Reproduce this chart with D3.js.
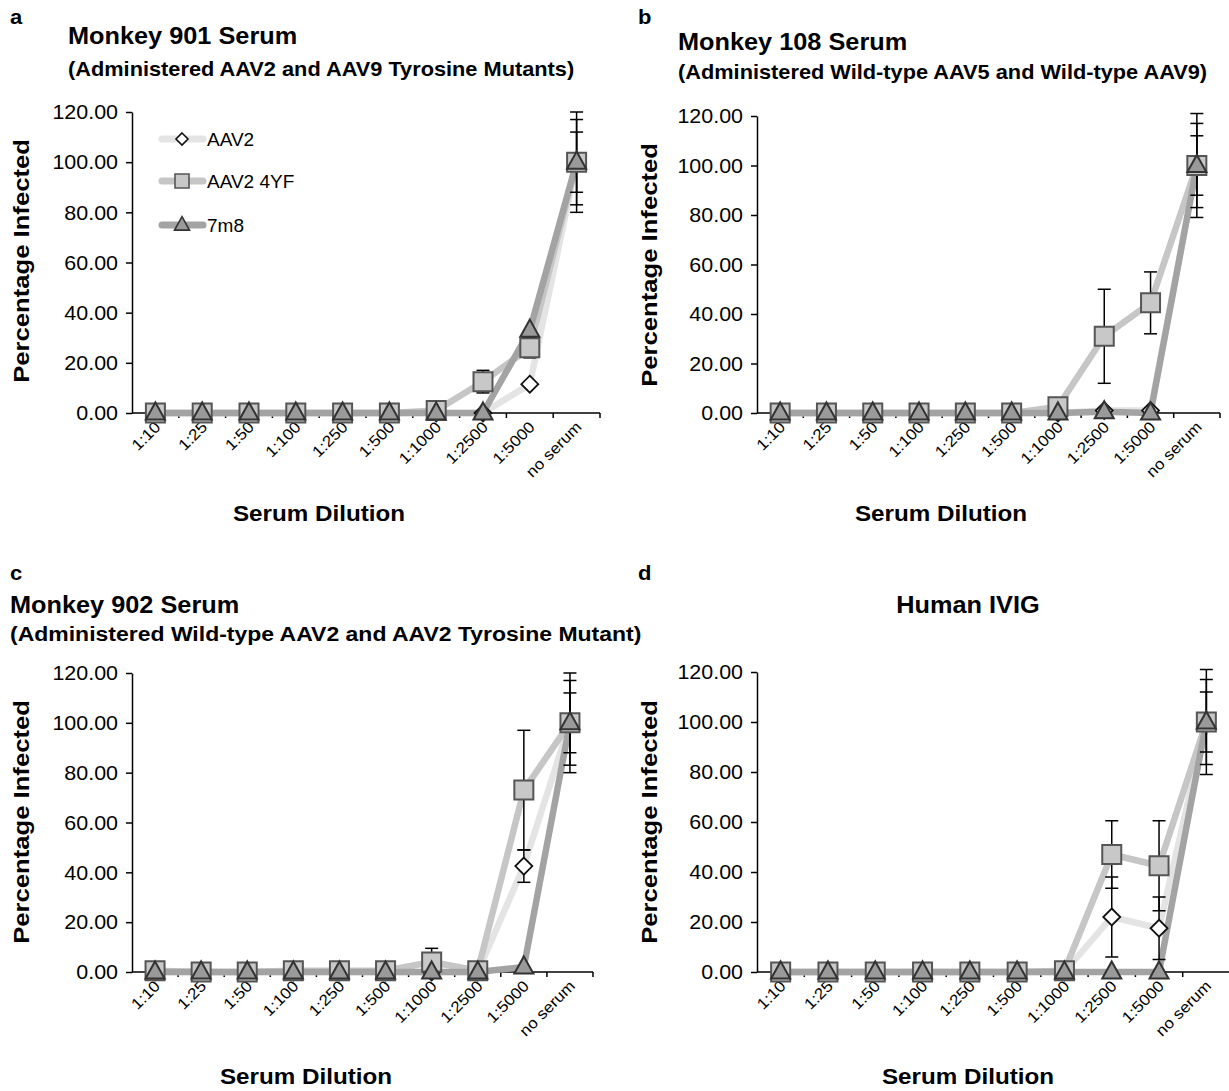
<!DOCTYPE html>
<html><head><meta charset="utf-8">
<script src="https://cdn.jsdelivr.net/npm/d3@7"></script>
<style>body{margin:0;background:#fff} svg{display:block} text{font-family:"Liberation Sans",Arial,Helvetica,sans-serif;fill:#000}</style>
</head><body><svg id="chart" width="1229" height="1091"></svg>
<script>
// ---------- data ----------
const categories = ["1:10","1:25","1:50","1:100","1:250","1:500","1:1000","1:2500","1:5000","no serum"];
const seriesNames = ["AAV2","AAV2 4YF","7m8"];
const yTicks = [0,20,40,60,80,100,120];
const panelLetters = ["a","b","c","d"];
const panelTitles = ["Monkey 901 Serum","Monkey 108 Serum","Monkey 902 Serum","Human IVIG"];
const panelSubtitles = ["(Administered AAV2 and AAV9 Tyrosine Mutants)","(Administered Wild-type AAV5 and Wild-type AAV9)","(Administered Wild-type AAV2 and AAV2 Tyrosine Mutant)",""];
const yAxisTitle = "Percentage Infected";
const xAxisTitle = "Serum Dilution";

// panel a
const aAAV2 = [0,0,0,0,0,0,0,0,11.5,100];
const aAAV2err = [0,0,0,0,0,0,0,0,0,12];
const a4YF = [0,0,0,0,0,0,1,12.5,26,100];
const a4YFerr = [0,0,0,0,0,0,0,4.5,4,17];
const a7m8 = [0,0,0,0,0,0,0,0,33,100];
const a7m8err = [0,0,0,0,0,0,0,0,0,20];
// panel b
const bAAV2 = [0,0,0,0,0,0,0,1,1,100];
const bAAV2err = [0,0,0,0,0,0,0,0,0,12];
const b4YF = [0,0,0,0,0,0,2.5,31,44.5,100];
const b4YFerr = [0,0,0,0,0,0,0,19,12.5,17];
const b7m8 = [0,0,0,0,0,0,0,0.5,0,100];
const b7m8err = [0,0,0,0,0,0,0,0,0,21];
// panel c
const cAAV2 = [0,0,0,0,0,0,0,0,42.5,100];
const cAAV2err = [0,0,0,0,0,0,0,0,6.5,12];
const c4YF = [0.5,0,0,0.5,0.5,0.5,4,0.5,73,100];
const c4YFerr = [0,0,0,0,0,0,5.5,0,24,17];
const c7m8 = [0,0,0,0,0,0,0,0,2,100];
const c7m8err = [0,0,0,0,0,0,0,0,0,20];
// panel d
const dAAV2 = [0,0,0,0,0,0,0,22,17.5,100];
const dAAV2err = [0,0,0,0,0,0,0,16,12.5,12];
const d4YF = [0,0,0,0,0,0,0.5,47,42.5,100];
const d4YFerr = [0,0,0,0,0,0,0,13.5,18,17];
const d7m8 = [0,0,0,0,0,0,0,0,0,100];
const d7m8err = [0,0,0,0,0,0,0,0,0,21];

const panelValues = [[aAAV2,a4YF,a7m8],[bAAV2,b4YF,b7m8],[cAAV2,c4YF,c7m8],[dAAV2,d4YF,d7m8]];
const panelErrors = [[aAAV2err,a4YFerr,a7m8err],[bAAV2err,b4YFerr,b7m8err],[cAAV2err,c4YFerr,c7m8err],[dAAV2err,d4YFerr,d7m8err]];

// ---------- styles / layout ----------
const lineColors = ["#e4e4e4","#c6c6c6","#a3a3a3"];
const markerFill = ["#ffffff","#c8c8c8","#9a9a9a"];
const markerStroke = ["#111","#555","#333"];
const layouts = [
  {x0:132,x1:600,yB:413,yT:112, letter:[10,24], title:[68,44,"start"], sub:[68,76,19.8], yTitle:[29,261], xTitle:[319,521], legend:true},
  {x0:757,x1:1220,yB:413,yT:116, letter:[638,24], title:[678,50,"start"], sub:[678,79,19.8], yTitle:[657,265], xTitle:[941,521]},
  {x0:132,x1:593,yB:972,yT:673, letter:[10,580], title:[10,613,"start"], sub:[10,641,20.9], yTitle:[29,822], xTitle:[306,1084]},
  {x0:757,x1:1230,yB:972,yT:672, letter:[638,580], title:[968,613,"middle"], sub:[968,641,19.8], yTitle:[657,822], xTitle:[968,1084]}
];

const svg = d3.select("#chart");

function markerPath(type, s){
  const h = s/2;
  if(type===0) return `M0,${-h}L${h},0L0,${h}L${-h},0Z`;
  if(type===1) return `M${-h},${-h}H${h}V${h}H${-h}Z`;
  const th = s*0.9;
  return `M0,${-th*0.62}L${h},${th*0.38}L${-h},${th*0.38}Z`;
}

panelValues.forEach((vals, p) => {
  const L = layouts[p];
  const g = svg.append("g");
  const x = d3.scaleBand().domain(categories).range([L.x0, L.x1]).padding(0);
  const y = d3.scaleLinear().domain([0,120]).range([L.yB, L.yT]);
  const cx = c => x(c) + x.bandwidth()/2;

  // letters and titles
  g.append("text").attr("x",L.letter[0]).attr("y",L.letter[1]).attr("font-size",20).attr("font-weight","bold").attr("class","st").text(panelLetters[p]);
  g.append("text").attr("x",L.title[0]).attr("y",L.title[1]).attr("text-anchor",L.title[2]).attr("font-size",23).attr("font-weight","bold").attr("class","st").text(panelTitles[p]);
  if(panelSubtitles[p]) g.append("text").attr("x",L.sub[0]).attr("y",L.sub[1]).attr("font-size",L.sub[2]).attr("font-weight","bold").attr("class","st").text(panelSubtitles[p]);

  // y axis
  const ya = g.append("g").attr("transform",`translate(${L.x0},0)`)
    .call(d3.axisLeft(y).tickValues(yTicks).tickFormat(d3.format(".2f")).tickSize(6).tickSizeOuter(0).tickPadding(8));
  ya.select(".domain").attr("stroke","#000").attr("stroke-width",1.5);
  ya.selectAll(".tick line").attr("stroke","#000").attr("stroke-width",1.5);
  ya.selectAll(".tick text").attr("font-size",19.5).attr("font-family",null).attr("class","st").attr("dy","0.35em");

  // x axis line + boundary ticks
  g.append("line").attr("x1",L.x0).attr("x2",L.x1).attr("y1",y(0)).attr("y2",y(0)).attr("stroke","#000").attr("stroke-width",1.5);
  g.selectAll(".xt").data(categories.slice(1).concat(["__end"])).enter().append("line")
    .attr("x1",c => c==="__end" ? L.x1 : x(c)).attr("x2",c => c==="__end" ? L.x1 : x(c))
    .attr("y1",y(0)).attr("y2",y(0)+5).attr("stroke","#000").attr("stroke-width",1.5);
  g.selectAll(".xl").data(categories).enter().append("text")
    .attr("transform",c => `translate(${cx(c)+6},${y(0)+15}) rotate(-45)`)
    .attr("text-anchor","end").attr("font-size",15.5).attr("class","st").text(c => c);

  // axis titles
  g.append("text").attr("transform",`translate(${L.yTitle[0]},${L.yTitle[1]}) rotate(-90)`).attr("text-anchor","middle")
    .attr("font-size",22.5).attr("font-weight","bold").attr("class","sy").text(yAxisTitle);
  g.append("text").attr("x",L.xTitle[0]).attr("y",L.xTitle[1]).attr("text-anchor","middle")
    .attr("font-size",22).attr("font-weight","bold").attr("class","st").text(xAxisTitle);

  // lines
  const line = d3.line().x((d,i) => cx(categories[i])).y(d => y(d));
  vals.forEach((v, s) => {
    g.append("path").datum(v).attr("d",line).attr("fill","none").attr("stroke",lineColors[s]).attr("stroke-width",6.5).attr("stroke-linejoin","round");
  });
  // error bars
  panelErrors[p].forEach((e, s) => {
    const pts = vals[s].map((v,i) => ({c:categories[i], v, e:e[i]})).filter(d => d.e > 0);
    const eg = g.append("g").attr("stroke","#000").attr("stroke-width",1.5);
    eg.selectAll(".v").data(pts).enter().append("line").attr("x1",d=>cx(d.c)).attr("x2",d=>cx(d.c)).attr("y1",d=>y(d.v-d.e)).attr("y2",d=>y(d.v+d.e));
    eg.selectAll(".t").data(pts).enter().append("line").attr("x1",d=>cx(d.c)-6.5).attr("x2",d=>cx(d.c)+6.5).attr("y1",d=>y(d.v+d.e)).attr("y2",d=>y(d.v+d.e));
    eg.selectAll(".b").data(pts).enter().append("line").attr("x1",d=>cx(d.c)-6.5).attr("x2",d=>cx(d.c)+6.5).attr("y1",d=>y(d.v-d.e)).attr("y2",d=>y(d.v-d.e));
  });
  // markers
  const sizes = [17,19,19];
  vals.forEach((v, s) => {
    g.selectAll(null).data(v).enter().append("path")
      .attr("transform",(d,i) => `translate(${cx(categories[i])},${y(d)})`)
      .attr("d",markerPath(s,sizes[s])).attr("fill",markerFill[s]).attr("stroke",markerStroke[s]).attr("stroke-width",s===0?1.8:2);
  });

  // legend
  if(L.legend){
    const ly = [139,181,225];
    seriesNames.forEach((n,s) => {
      g.append("line").attr("x1",162).attr("x2",203).attr("y1",ly[s]).attr("y2",ly[s]).attr("stroke",lineColors[s]).attr("stroke-width",7).attr("stroke-linecap","round");
      g.append("path").attr("transform",`translate(182,${ly[s]})`).attr("d",markerPath(s,[12,14,15][s])).attr("fill",markerFill[s]).attr("stroke",markerStroke[s]).attr("stroke-width",1.6);
      g.append("text").attr("x",207).attr("y",ly[s]+7).attr("font-size",19).attr("font-family","Lato,'Open Sans',sans-serif").text(n);
    });
  }
});

// horizontal stretch of text to match reference proportions
svg.selectAll("text.st").each(function(){
  const w = this.getComputedTextLength();
  d3.select(this).attr("textLength", w*1.1).attr("lengthAdjust","spacingAndGlyphs");
});
svg.selectAll("text.sy").each(function(){
  const w = this.getComputedTextLength();
  d3.select(this).attr("textLength", w*1.14).attr("lengthAdjust","spacingAndGlyphs");
});
</script></body></html>
